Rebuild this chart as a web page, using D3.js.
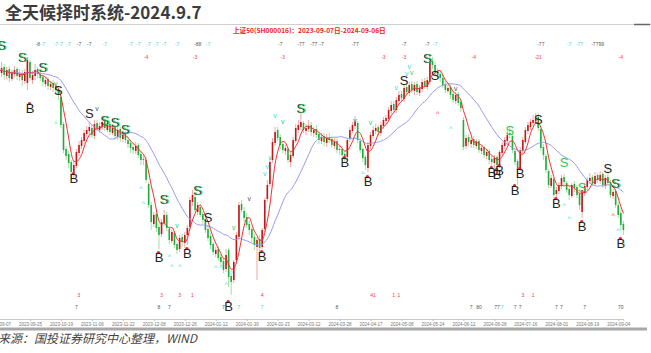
<!DOCTYPE html>
<html lang="zh">
<head>
<meta charset="UTF-8">
<title>全天候择时系统</title>
<script src="https://d3js.org/d3.v7.min.js"></script>
<style>
  body { margin: 0; background: #fff; }
  svg { display: block; font-family: "Liberation Sans", Arial, sans-serif; }
  .title { font-family: "Noto Sans CJK SC", sans-serif; font-weight: bold; font-size: 17px; fill: #3c3c3c; }
  .subtitle { font-family: "Noto Sans CJK SC", sans-serif; font-weight: bold; font-size: 6.6px; fill: #ee2222; }
  .source { font-family: "Noto Sans CJK SC", sans-serif; font-style: italic; font-size: 12px; fill: #444; }
  .note { font-size: 5px; text-anchor: middle; }
  .sig { font-size: 13px; text-anchor: middle; dominant-baseline: central; }
  .mark { font-size: 7px; text-anchor: middle; dominant-baseline: central; }
  .x-axis path, .x-axis line { stroke: #bbb; }
  .x-axis text { font-size: 4.5px; fill: #777; }
</style>
</head>
<body>
<div id="chart"></div>
<script>
// SH000016 daily bars, 2023-09-07 .. 2024-09-06
const open = [
  2606,2614,2626,2608,2622,2602,2612,2622, 2606,2614,2598,2594,2636,2600,2608,2622,
  2612,2606,2592,2602,2586,2594,2588,2582, 2566,2512,2462,2452,2436,2414,2428,2454,
  2468,2478,2492,2498,2504,2488,2514,2500, 2506,2518,2500,2512,2494,2506,2486,2502,
  2482,2492,2480,2474,2466,2458,2470,2452, 2442,2440,2392,2350,2312,2332,2306,2292,
  2314,2330,2302,2278,2294,2272,2262,2286, 2274,2290,2306,2356,2366,2336,2346,2332,
  2322,2302,2288,2272,2252,2262,2246,2238, 2222,2260,2208,2200,2240,2286,2352,2338,
  2326,2312,2302,2286,2266,2282,2266,2302, 2362,2392,2440,2474,2500,2486,2472,2458,
  2462,2436,2448,2478,2500,2506,2514,2498, 2502,2510,2494,2502,2492,2478,2488,2474,
  2486,2482,2468,2478,2462,2462,2452,2446, 2482,2498,2508,2514,2478,2462,2446,2424,
  2468,2488,2498,2506,2494,2508,2518,2522, 2538,2552,2540,2558,2572,2562,2586,2574,
  2592,2578,2592,2574,2582,2598,2586,2596, 2638,2630,2618,2612,2604,2592,2578,2586,
  2572,2558,2572,2556,2520,2468,2486,2472, 2482,2468,2478,2458,2466,2448,2458,2442,
  2434,2446,2428,2454,2468,2478,2494,2488, 2458,2438,2422,2458,2476,2498,2506,2514,
  2518,2526,2502,2466,2448,2418,2388,2402, 2372,2378,2388,2406,2394,2382,2368,2392,
  2386,2372,2336,2374,2386,2398,2406,2392, 2410,2398,2412,2388,2406,2396,2368,2378,
  2350,2334,2312
];
const high = [
  2640,2636,2632,2626,2628,2620,2628,2626, 2622,2620,2622,2646,2640,2618,2632,2626,
  2620,2610,2606,2606,2598,2600,2594,2586, 2570,2516,2468,2458,2440,2438,2462,2478,
  2486,2500,2508,2516,2510,2520,2520,2516, 2526,2522,2516,2516,2510,2510,2506,2506,
  2498,2498,2486,2480,2474,2476,2474,2458, 2452,2446,2396,2356,2336,2338,2312,2322,
  2340,2336,2308,2300,2298,2276,2290,2292, 2296,2310,2366,2380,2376,2356,2350,2336,
  2328,2310,2294,2276,2266,2268,2252,2244, 2262,2264,2214,2240,2296,2356,2360,2346,
  2334,2318,2306,2292,2286,2290,2304,2364, 2400,2444,2484,2506,2506,2492,2478,2470,
  2466,2456,2486,2512,2520,2536,2518,2512, 2520,2516,2506,2510,2498,2494,2494,2492,
  2494,2488,2484,2482,2470,2468,2458,2484, 2506,2516,2528,2518,2484,2466,2450,2476,
  2496,2508,2512,2510,2516,2526,2530,2546, 2558,2558,2566,2578,2578,2590,2592,2596,
  2598,2596,2598,2590,2602,2604,2606,2650, 2646,2636,2624,2618,2610,2598,2590,2592,
  2578,2576,2576,2560,2526,2490,2492,2486, 2488,2482,2482,2470,2470,2462,2462,2448,
  2450,2450,2460,2476,2486,2500,2506,2494, 2462,2442,2466,2486,2506,2516,2522,2530,
  2534,2534,2506,2472,2452,2422,2410,2406, 2386,2396,2410,2412,2398,2386,2394,2398,
  2390,2376,2380,2394,2406,2414,2410,2416, 2414,2418,2416,2410,2426,2400,2382,2382,
  2356,2340,2318
];
const low = [
  2580,2606,2600,2602,2596,2598,2606,2600, 2598,2588,2592,2580,2598,2592,2600,2604,
  2598,2588,2586,2580,2580,2576,2572,2560, 2504,2454,2440,2424,2400,2404,2424,2448,
  2462,2472,2486,2490,2484,2482,2498,2494, 2500,2498,2496,2490,2490,2480,2480,2476,
  2476,2474,2464,2454,2452,2452,2444,2430, 2430,2394,2344,2300,2306,2296,2262,2286,
  2308,2298,2272,2274,2264,2252,2256,2266, 2264,2270,2300,2348,2334,2330,2326,2312,
  2294,2278,2262,2250,2246,2238,2228,2214, 2216,2186,2170,2194,2232,2280,2334,2316,
  2304,2290,2276,2260,2200,2256,2262,2296, 2356,2386,2434,2468,2478,2462,2454,2450,
  2434,2426,2444,2474,2494,2500,2494,2490, 2496,2488,2486,2484,2472,2472,2468,2466,
  2474,2464,2462,2454,2450,2444,2436,2440, 2476,2494,2502,2474,2454,2436,2420,2416,
  2462,2482,2492,2488,2488,2502,2512,2518, 2532,2534,2534,2552,2558,2556,2570,2568,
  2574,2570,2570,2568,2576,2582,2580,2592, 2622,2610,2604,2596,2584,2574,2574,2562,
  2554,2552,2548,2536,2460,2462,2468,2464, 2464,2462,2454,2452,2444,2442,2432,2426,
  2424,2424,2424,2448,2462,2472,2484,2454, 2430,2390,2418,2452,2472,2492,2500,2508,
  2512,2498,2458,2440,2414,2384,2384,2364, 2362,2372,2382,2390,2374,2360,2364,2376,
  2364,2340,2324,2368,2380,2392,2388,2388, 2394,2392,2384,2382,2390,2364,2362,2344,
  2324,2300,2290
];
const close = [
  2616,2624,2610,2620,2604,2614,2620,2608, 2612,2600,2616,2640,2604,2610,2620,2612,
  2604,2596,2600,2588,2592,2584,2580,2570, 2510,2460,2448,2434,2416,2430,2456,2470,
  2480,2494,2500,2506,2490,2512,2504,2508, 2516,2504,2510,2496,2504,2488,2500,2484,
  2490,2480,2472,2464,2460,2468,2450,2440, 2440,2400,2350,2316,2330,2304,2290,2316,
  2330,2304,2280,2296,2270,2260,2284,2276, 2290,2304,2360,2370,2340,2350,2330,2320,
  2300,2284,2270,2256,2260,2244,2236,2220, 2250,2206,2196,2236,2290,2350,2340,2324,
  2310,2300,2284,2270,2280,2264,2300,2360, 2390,2436,2476,2496,2484,2470,2460,2464,
  2440,2450,2480,2504,2510,2516,2500,2504, 2508,2496,2500,2490,2480,2486,2476,2484,
  2480,2470,2476,2460,2460,2450,2444,2480, 2500,2510,2516,2480,2460,2444,2430,2470,
  2490,2500,2504,2496,2510,2520,2524,2540, 2550,2540,2560,2570,2564,2584,2576,2590,
  2580,2590,2576,2584,2596,2588,2600,2636, 2630,2616,2610,2604,2590,2580,2584,2570,
  2560,2570,2554,2544,2466,2484,2476,2480, 2470,2476,2460,2464,2450,2456,2440,2436,
  2444,2430,2456,2470,2480,2490,2490,2460, 2436,2420,2460,2480,2500,2510,2516,2520,
  2524,2504,2464,2450,2420,2390,2404,2370, 2380,2390,2404,2396,2380,2370,2390,2384,
  2370,2350,2380,2388,2400,2404,2394,2408, 2400,2410,2390,2404,2394,2370,2376,2350,
  2330,2310,2300
];

const tickIdx = [0,12,24,36,48,60,72,84,96,108,120,132,144,156,168,180,192,204,216,228,240];
const tickLabels = ["2023-09-07","2023-09-25","2023-10-19","2023-11-06","2023-11-22","2023-12-08",
  "2023-12-26","2024-01-12","2024-01-30","2024-02-23","2024-03-12","2024-03-28","2024-04-17",
  "2024-05-08","2024-05-24","2024-06-12","2024-06-28","2024-07-16","2024-08-01","2024-08-19","2024-09-04"];

// sell / buy signals: [day index, price level, kind]
const sells = [[1,2670,"bg"],[9,2646,"bg"],[17,2626,"bg"],[23,2580,"k"],[35,2534,"k"],[41,2520,"bg"],
  [45,2516,"bg"],[49,2502,"bg"],[64,2362,"bg"],[77,2380,"bg"],[81,2326,"k"],[117,2544,"bg"],
  [157,2600,"k"],[166,2644,"bg"],[169,2610,"k"],[198,2500,"g"],[209,2522,"k"],[219,2436,"g"],
  [226,2386,"g"],[236,2424,"k"],[239,2394,"bg"]];
const buys = [[12,2544],[29,2404],[62,2246],[73,2254],[89,2148],[102,2248],[134,2436],[143,2398],
  [191,2416],[193,2412],[194,2420],[200,2380],[202,2414],[216,2354],[226,2308],[241,2274]];

// small arrows: [day index, price level, glyph, colour code]
const marks = [[22,2594,"v","g"],[22,2514,"^","c"],[38,2544,"v","k"],[55,2384,"^","c"],[56,2354,"^","c"],
  [69,2310,"v","g"],[66,2248,"^","c"],[67,2228,"^","c"],[70,2228,"^","c"],[91,2306,"v","g"],
  [97,2364,"v","k"],[84,2226,"^","c"],[86,2226,"^","c"],[90,2216,"^","c"],[88,2192,"^","c"],
  [103,2414,"v","c"],[104,2428,"v","c"],[105,2446,"v","c"],[107,2530,"v","c"],[110,2518,"v","g"],
  [138,2520,"v","k"],[144,2516,"v","g"],[141,2414,"^","c"],[154,2586,"v","c"],[158,2614,"v","c"],
  [159,2628,"v","c"],[160,2616,"v","g"],[177,2584,"v","k"],[170,2534,"^","r"],[175,2504,"^","c"],
  [219,2350,"^","c"],[221,2324,"^","c"],[238,2330,"^","r"],[240,2300,"^","c"],[242,2274,"^","c"]];

// number rows: [day index, text, colour code]
const topNotes1 = [[15,"-8","k"],[17,"-7","c"],[22,"-7","c"],[24,"-7","c"],[27,"-7","c"],[31,"-7","k"],
  [35,"-7","k"],[41,"-7","c"],[51,"-7","c"],[54,"-7","c"],[58,"-7","c"],[61,"-7","c"],[64,"-7","c"],
  [69,"-7","c"],[77,"-88","k"],[81,"-7","c"],[109,"-7","k"],[117,"-77","k"],[122,"-77","k"],
  [125,"-7","k"],[138,"-77","k"],[157,"-7","k"],[166,"-7","k"],[169,"-7","c"],[210,"-77","k"],
  [221,"-7","c"],[225,"-77","c"],[232,"-7799","k"]];
const topNotes2 = [[57,"-4"],[76,"-3"],[110,"-3"],[149,"-3"],[157,"-3"],[184,"-4"],[209,"-21"],[241,"-4"]];
const botNotes1 = [[31,"3"],[63,"3"],[70,"3"],[75,"1"],[102,"4"],[145,"41"],[153,"1"],[155,"1"],[203,"3"],[207,"1"]];
const botNotes2 = [[30,"7","k"],[62,"8","k"],[66,"7","k"],[87,"7","k"],[93,"7","c"],[102,"7","c"],
  [131,"8","k"],[183,"7","k"],[186,"80","k"],[193,"77","k"],[195,"7","c"],[200,"7","k"],[202,"7","k"],
  [216,"7","k"],[218,"7","k"],[227,"7","k"],[241,"70","k"]];

const W = 651, H = 353;
const colors = { k: "#555", c: "#33dddd", g: "#33cc55", r: "#ff3333" };

const svg = d3.select("#chart").append("svg").attr("width", W).attr("height", H);

// title block
svg.append("text").attr("class", "title").attr("x", 5).attr("y", 19).text("全天候择时系统-2024.9.7");
svg.append("line").attr("x1", 0).attr("x2", W).attr("y1", 24.5).attr("y2", 24.5)
  .attr("stroke", "#d0d0d0").attr("stroke-width", 1);
svg.append("line").attr("x1", 634).attr("x2", 650).attr("y1", 24.5).attr("y2", 24.5)
  .attr("stroke", "#666").attr("stroke-width", 1.5);
svg.append("text").attr("class", "subtitle").attr("x", 233).attr("y", 33)
  .text("上证50(SH000016)：2023-09-07日-2024-09-06日");

const x = d3.scaleLinear().domain([0, 242]).range([-1, 623.4]);
const y = d3.scaleLinear().domain([2100, 2760]).range([330, 0]);

// x axis
svg.append("g").attr("class", "x-axis").attr("transform", "translate(0,319)")
  .call(d3.axisBottom(x).tickValues(tickIdx).tickFormat((d, i) => tickLabels[i]).tickSize(2).tickPadding(1.5))
  .call(g => g.select(".domain").attr("stroke-width", 0.8));

// candles
const days = d3.range(close.length);
const candles = svg.append("g");
candles.selectAll("line.wick").data(days).join("line")
  .attr("x1", i => x(i)).attr("x2", i => x(i))
  .attr("y1", i => y(high[i])).attr("y2", i => y(low[i]))
  .attr("stroke", i => close[i] >= open[i] ? "#f0a8a8" : "#a8dca8")
  .attr("stroke-width", 1);
candles.selectAll("rect").data(days).join("rect")
  .attr("x", i => x(i) - 0.8).attr("width", 1.6)
  .attr("y", i => y(Math.max(open[i], close[i])))
  .attr("height", i => Math.max(0.8, Math.abs(y(open[i]) - y(close[i]))))
  .attr("fill", i => close[i] >= open[i] ? "#c01818" : "#1fae3a");

// moving averages
const ma = n => days.map(i => d3.mean(close.slice(Math.max(0, i - n + 1), i + 1)));
const ma5 = ma(5), ma20 = ma(20);
const line = d3.line().x((d, i) => x(i)).y(d => y(d)).curve(d3.curveMonotoneX);
svg.append("path").datum(ma20).attr("d", line).attr("fill", "none")
  .attr("stroke", "#9a9af2").attr("stroke-width", 1);
svg.append("path").datum(ma5).attr("d", line).attr("fill", "none")
  .attr("stroke", "#ee3030").attr("stroke-width", 1);

// arrows
svg.selectAll("text.mark").data(marks).join("text").attr("class", "mark")
  .attr("x", d => x(d[0])).attr("y", d => y(d[1]))
  .attr("fill", d => colors[d[3]]).text(d => d[2]);

// sell signals
const sg = svg.append("g");
sells.forEach(([i, p, kind]) => {
  if (kind !== "g") {
    sg.append("text").attr("class", "sig").attr("x", x(i)).attr("y", y(p)).attr("fill", "#222").text("S");
  }
  if (kind !== "k") {
    sg.append("text").attr("class", "sig").attr("x", x(i) + (kind === "g" ? 0 : 1.2)).attr("y", y(p) + (kind === "g" ? 0 : 0.8))
      .attr("fill", "#2ecc55").attr("fill-opacity", kind === "g" ? 1 : 0.8).text("S");
  }
});

// buy signals
buys.forEach(([i, p]) => {
  sg.append("circle").attr("cx", x(i) - 0.5).attr("cy", y(p) - 4.5).attr("r", 1.6).attr("fill", "#e82020");
  sg.append("text").attr("class", "sig").attr("x", x(i)).attr("y", y(p)).attr("fill", "#222").text("B");
});

// number rows
const notes = svg.append("g");
notes.selectAll("text.t1").data(topNotes1).join("text").attr("class", "note t1")
  .attr("x", d => x(d[0])).attr("y", 46).attr("fill", d => colors[d[2]]).text(d => d[1]);
notes.selectAll("text.t2").data(topNotes2).join("text").attr("class", "note t2")
  .attr("x", d => x(d[0])).attr("y", 59).attr("fill", colors.r).text(d => d[1]);
notes.selectAll("text.b1").data(botNotes1).join("text").attr("class", "note b1")
  .attr("x", d => x(d[0])).attr("y", 297).attr("fill", colors.r).text(d => d[1]);
notes.selectAll("text.b2").data(botNotes2).join("text").attr("class", "note b2")
  .attr("x", d => x(d[0])).attr("y", 309).attr("fill", d => colors[d[2]]).text(d => d[1]);

// footer
svg.append("line").attr("x1", 0).attr("x2", 647).attr("y1", 329).attr("y2", 329)
  .attr("stroke", "#a8a8a8").attr("stroke-width", 3);
svg.append("text").attr("class", "source").attr("x", -2).attr("y", 343).text("来源：国投证券研究中心整理，WIND");
</script>
</body>
</html>
